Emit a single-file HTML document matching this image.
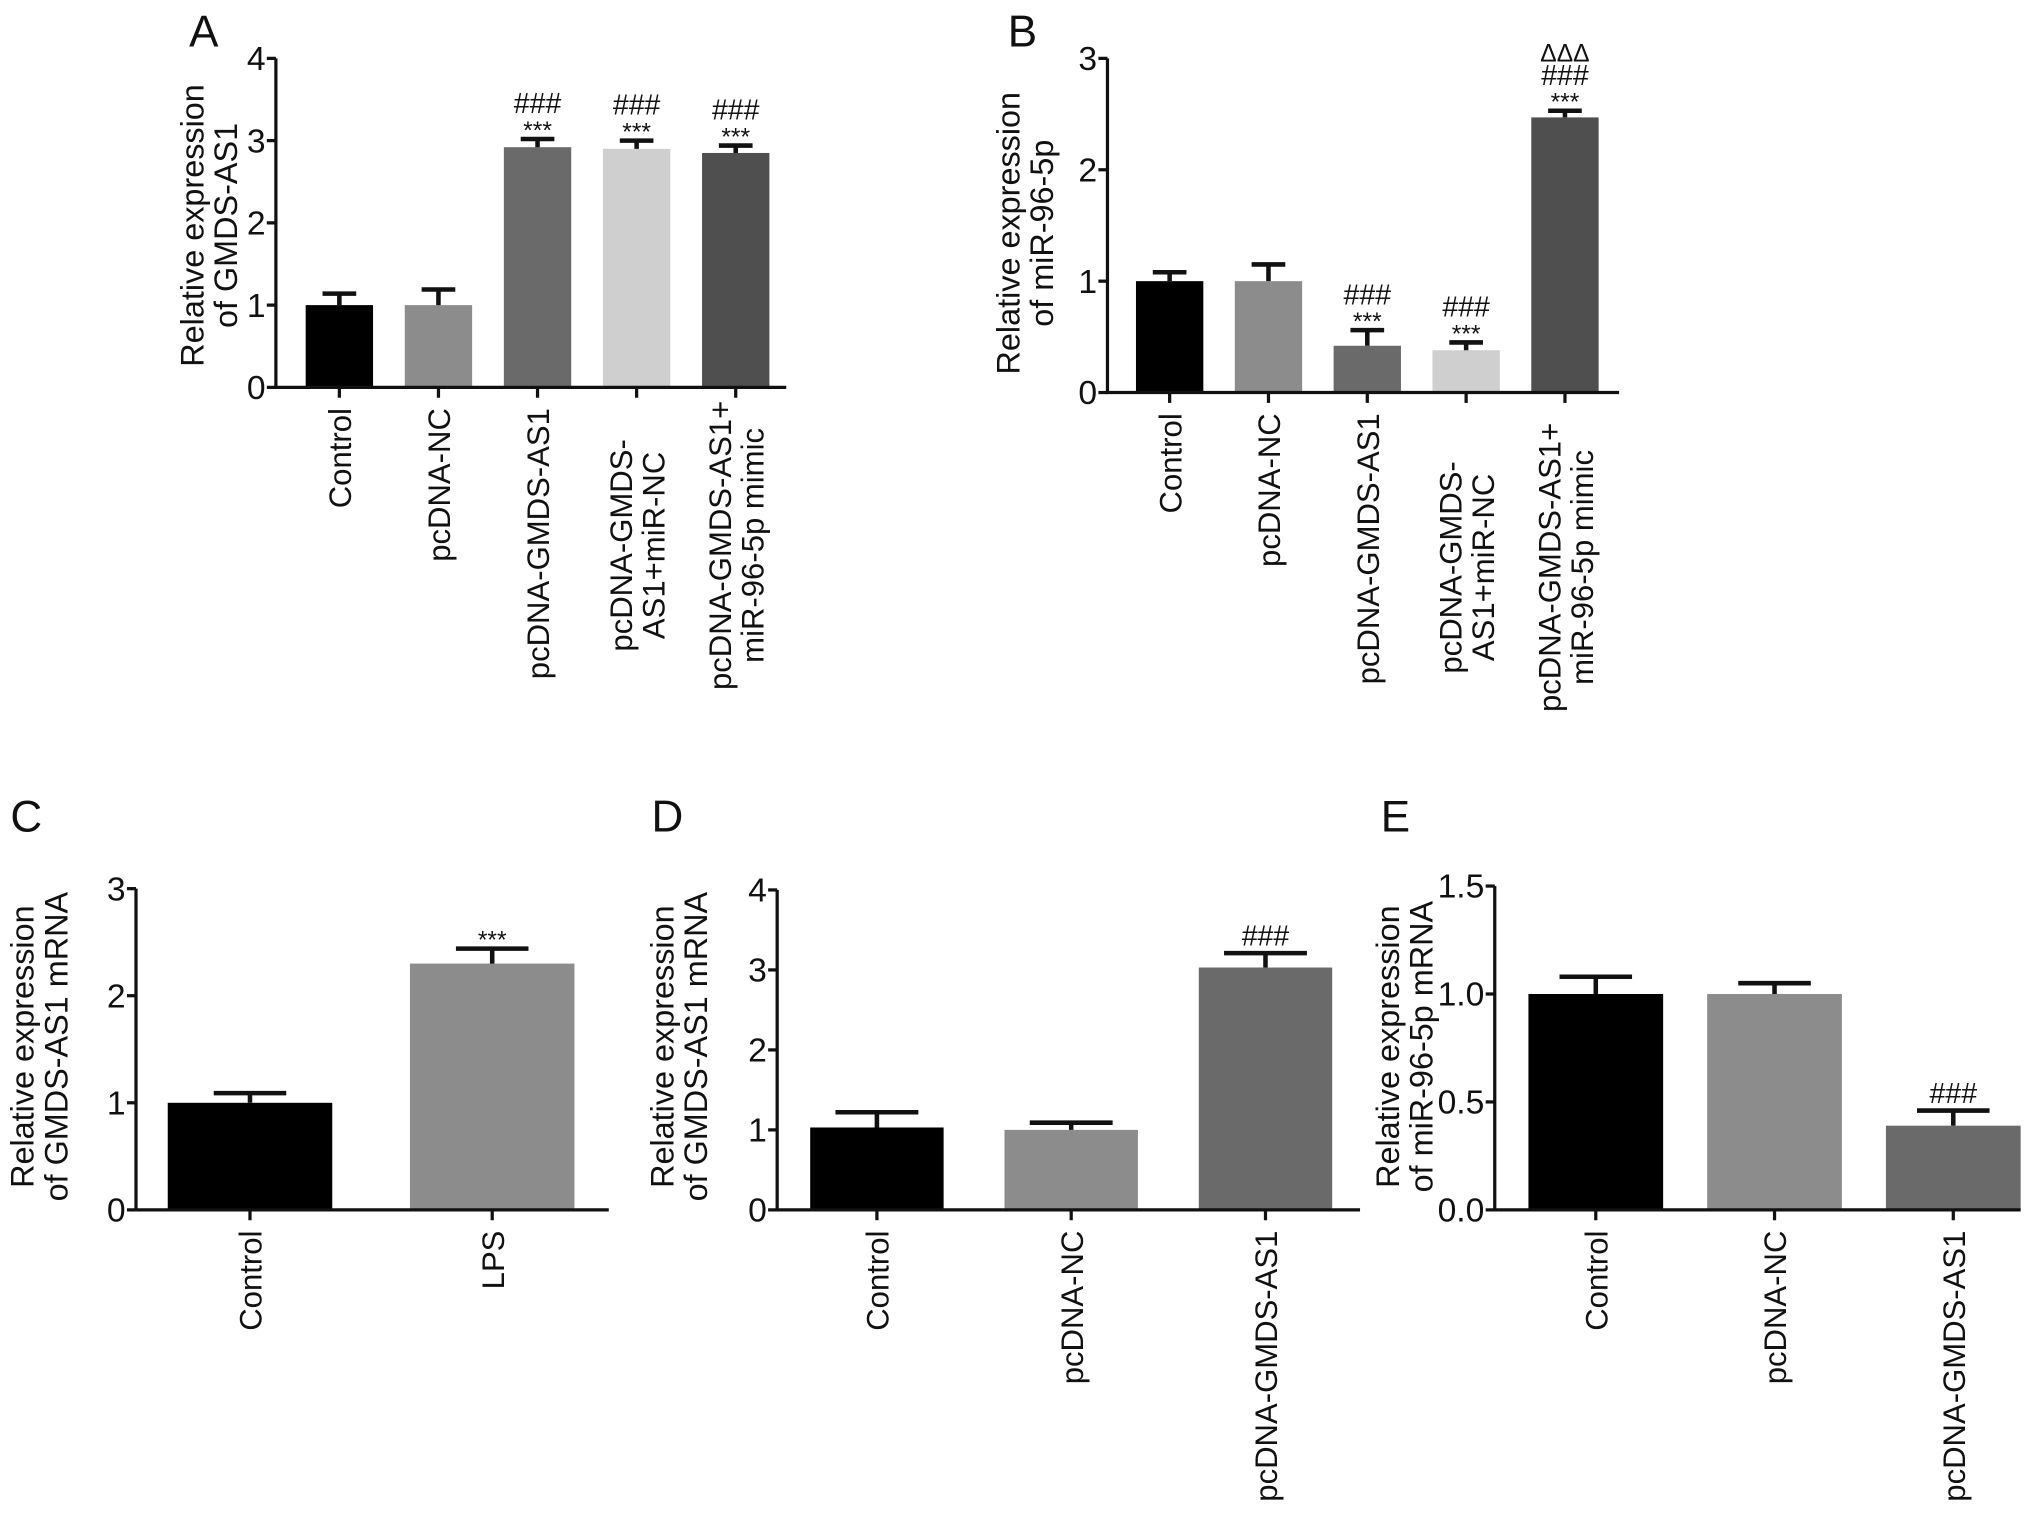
<!DOCTYPE html>
<html><head><meta charset="utf-8"><style>
html,body{margin:0;padding:0;background:#fff}
svg{display:block}
text{font-family:"Liberation Sans",Arial,sans-serif;fill:#111}
</style></head><body>
<svg id="fig" width="2031" height="1526" viewBox="0 0 1568 1178" xmlns="http://www.w3.org/2000/svg"></svg>
<script>
const aCats=[["Control"],["pcDNA-NC"],["pcDNA-GMDS-AS1"],["pcDNA-GMDS-","AS1+miR-NC"],["pcDNA-GMDS-AS1+","miR-96-5p mimic"]];
const aVals=[1.0,1.0,2.92,2.9,2.85];
const aErr=[0.14,0.19,0.1,0.1,0.09];
const aMarks=[[],[],["###","***"],["###","***"],["###","***"]];
const aTicks=["0","1","2","3","4"];
const bCats=aCats;
const bVals=[1.0,1.0,0.42,0.38,2.47];
const bErr=[0.08,0.15,0.14,0.07,0.06];
const bMarks=[[],[],["###","***"],["###","***"],["ΔΔΔ","###","***"]];
const bTicks=["0","1","2","3"];
const cCats=[["Control"],["LPS"]];
const cVals=[1.0,2.3];
const cErr=[0.09,0.14];
const cMarks=[[],["***"]];
const cTicks=["0","1","2","3"];
const dCats=[["Control"],["pcDNA-NC"],["pcDNA-GMDS-AS1"]];
const dVals=[1.03,1.0,3.03];
const dErr=[0.19,0.09,0.18];
const dMarks=[[],[],["###"]];
const dTicks=["0","1","2","3","4"];
const eCats=dCats;
const eVals=[1.0,1.0,0.39];
const eErr=[0.08,0.05,0.07];
const eMarks=[[],[],["###"]];
const eTicks=["0.0","0.5","1.0","1.5"];

const NS="http://www.w3.org/2000/svg";
const svg=document.getElementById('fig');
function mk(tag,attrs,parent){const e=document.createElementNS(NS,tag);for(const k in attrs)e.setAttribute(k,attrs[k]);(parent||svg).appendChild(e);return e;}

function panel(cfg){
  const g=mk('g',{});
  
  
  const ymax=parseFloat(cfg.ticks[cfg.ticks.length-1]);
  const Y=v=>cfg.y0-(v/ymax)*(cfg.y0-cfg.yTop);
  const X=i=>cfg.c0+i*cfg.sp;
  const L=mk('text',{x:cfg.lx,y:cfg.ly,'font-size':34},g);L.textContent=cfg.letter;
  
  
  const t=mk('text',{transform:`translate(${cfg.tx},${cfg.ty}) rotate(-90)`,'font-size':25,'text-anchor':'middle'},g);
  
  
  const t1=mk('tspan',{x:0,y:0},t);t1.textContent="Relative expression";
  const t2=mk('tspan',{x:0,y:26},t);t2.textContent=cfg.title;
  cfg.vals.forEach((v,i)=>{
    const cx=X(i),top=Y(v),et=Y(v+cfg.err[i]);
    const r=mk('rect',{x:cx-cfg.w/2,y:top,width:cfg.w,height:cfg.y0-top,fill:cfg.colors[i]},g);
    
    
    const e=mk('path',{d:`M${cx},${top}V${et}M${cx-cfg.cap},${et}H${cx+cfg.cap}`,stroke:'#111','stroke-width':3.5,fill:'none'},g);
    
    
    const ms=cfg.marks[i];
    let yy=et-6;
    for(let k=ms.length-1;k>=0;k--){
      const s=ms[k];
      const tx=mk('text',{x:cx,y:s==="***"?yy+6:yy,'font-size':s==="***"?19:(s==="ΔΔΔ"?19:22),'text-anchor':'middle','font-family':'Liberation Serif'},g);
      tx.textContent=s;
      
      
      yy-=s==="***"?14:18;
    }
    mk('line',{x1:cx,x2:cx,y1:cfg.y0,y2:cfg.y0+8,stroke:'#111','stroke-width':2.5},g);
    const lines=cfg.cats[i];
    lines.forEach((ln,j)=>{
      const off=(j-(lines.length-1)/2)*25+9;
      const lt=mk('text',{transform:`translate(${cx+off},${cfg.y0+16}) rotate(-90)`,'font-size':24,'text-anchor':lines.length>1?'middle':'end'},g);
      if(lines.length>1)lt.setAttribute('transform',`translate(${cx+off},${cfg.y0+16+cfg.mlen/2}) rotate(-90)`);
      lt.textContent=ln;
      
      
    });
  });
  const ax=mk('path',{d:`M${cfg.ax},${cfg.yTop}V${cfg.y0}H${cfg.axEnd}`,stroke:'#111','stroke-width':2.5,fill:'none'},g);
  
  
  cfg.ticks.forEach(tk=>{
    const y=Y(parseFloat(tk));
    mk('line',{x1:cfg.ax-7,x2:cfg.ax,y1:y,y2:y,stroke:'#111','stroke-width':2.5},g);
    const tt=mk('text',{x:cfg.ax-8,y:y+9,'font-size':26,'text-anchor':'end'},g);
    tt.textContent=tk;
    
    
  });
}
const c5=['#000','#8c8c8c','#6a6a6a','#cfcfcf','#4f4f4f'];
panel({letter:'A',lx:146,ly:36,tx:157,ty:174,title:'of GMDS-AS1',cats:aCats,vals:aVals,err:aErr,marks:aMarks,ticks:aTicks,
  y0:299,yTop:45,ax:213,axEnd:607,c0:262,sp:76.5,w:52,cap:13,colors:c5,mlen:212});
panel({letter:'B',lx:778,ly:36,tx:787,ty:180,title:'of miR-96-5p',cats:bCats,vals:bVals,err:bErr,marks:bMarks,ticks:bTicks,
  y0:303,yTop:45,ax:855,axEnd:1250,c0:903,sp:76.3,w:52,cap:13,colors:c5,mlen:238});
panel({letter:'C',lx:8,ly:642,tx:26,ty:808,title:'of GMDS-AS1 mRNA',cats:cCats,vals:cVals,err:cErr,marks:cMarks,ticks:cTicks,
  y0:934,yTop:686,ax:105,axEnd:470,c0:193,sp:187,w:127,cap:28,colors:['#000','#8c8c8c']});
panel({letter:'D',lx:503,ly:642,tx:520,ty:808,title:'of GMDS-AS1 mRNA',cats:dCats,vals:dVals,err:dErr,marks:dMarks,ticks:dTicks,
  y0:934,yTop:687,ax:600,axEnd:1050,c0:677,sp:150,w:103,cap:32,colors:['#000','#8c8c8c','#6a6a6a']});
panel({letter:'E',lx:1066,ly:642,tx:1080,ty:808,title:'of miR-96-5p mRNA',cats:eCats,vals:eVals,err:eErr,marks:eMarks,ticks:eTicks,
  y0:934,yTop:684,ax:1154,axEnd:1560,c0:1232,sp:138,w:104,cap:28,colors:['#000','#8c8c8c','#6a6a6a']});
</script>
</body></html>
